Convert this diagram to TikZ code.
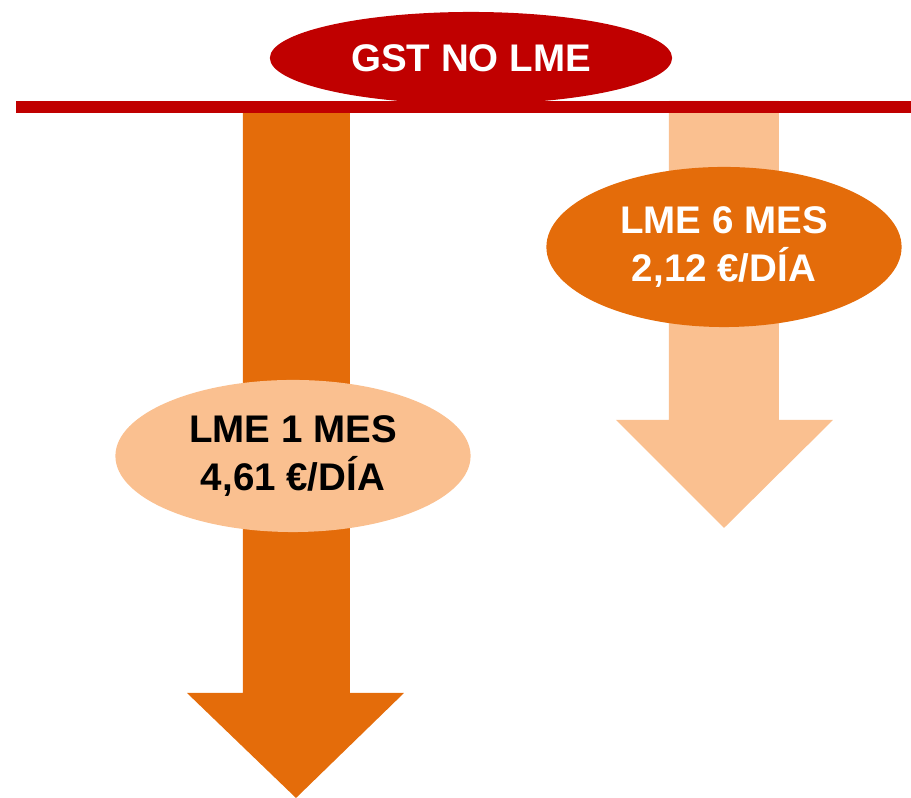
\documentclass[tikz,border=0pt]{standalone}
\usepackage{fontspec}
\setmainfont{Liberation Sans}
\usetikzlibrary{shapes.geometric}

\definecolor{gstRed}{HTML}{C00000}
\definecolor{lmeOrange}{HTML}{E46C0A}
\definecolor{lmePeach}{HTML}{FAC090}

\begin{document}
\begin{tikzpicture}[
      x=0.01cm, y=-0.01cm,
      bigArrow/.style={draw=none},
      lmeNode/.style={ellipse,inner sep=0pt,minimum width=3.55cm,font=\fontsize{10.95}{13.4}\selectfont\bfseries,align=center},
      gstNode/.style={ellipse,inner sep=0pt,fill=gstRed,text=white,minimum width=4.02cm,minimum height=0.92cm,font=\fontsize{10.95}{13.4}\selectfont\bfseries},
    ]

    \useasboundingbox (0,0) rectangle (911,798);

    % arrows
    \fill[lmeOrange,bigArrow] (243,110) -- (350,110) -- (350,693) -- (404,693)
      -- (296,798) -- (187,693) -- (243,693) -- cycle;
    \fill[lmePeach,bigArrow] (669,101) -- (779,101) -- (779,420) -- (833,420)
      -- (724,528) -- (616,420) -- (669,420) -- cycle;

    % red line
    \fill[gstRed] (16,101) rectangle (911,113);

    \node[gstNode] (gst) at (471,58) {GST NO LME};

    \node[lmeNode,fill=lmePeach,text=black,minimum height=1.52cm] (lmeOne) at (293,456)
      {LME 1 MES\\4,61 €/DÍA};
    \node[lmeNode,fill=lmeOrange,text=white,minimum height=1.60cm] (lmeSix) at (724,247)
      {LME 6 MES\\2,12 €/DÍA};

\end{tikzpicture}
\end{document}
